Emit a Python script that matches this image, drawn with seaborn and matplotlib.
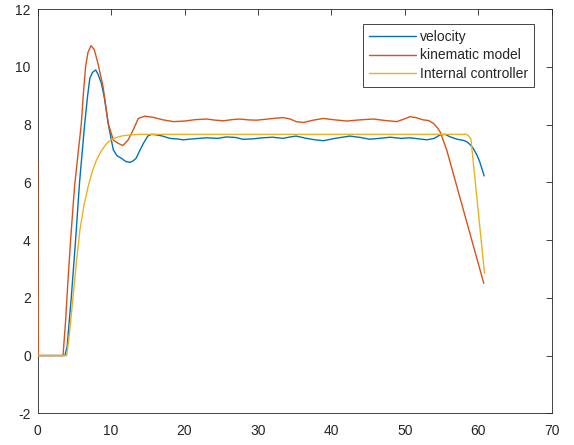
import numpy as np
import pandas as pd
import seaborn as sns
import matplotlib
matplotlib.use("Agg")
import matplotlib.pyplot as plt

# -------------------------------
# Data
# -------------------------------
vel_t = [0, 3.7, 4.0, 4.3, 4.57, 5.16, 5.7, 6.39, 6.8, 7.1, 7.45, 7.9, 8.2, 8.67,
         9.1, 9.6, 10.0, 10.3, 10.8, 11.4, 12.0, 12.6, 13.0, 13.4, 13.9, 14.4,
         15.0, 15.5, 16.2, 17.0, 18.0, 19.0, 19.8, 21.0, 22.0, 23.0, 24.5, 25.7,
         27.0, 27.9, 29.2, 30.6, 32.0, 33.4, 34.4, 35.2, 36.6, 37.8, 38.9, 40.5,
         42.5, 44.0, 45.2, 46.5, 48.0, 49.5, 50.7, 52.0, 53.0, 54.0, 54.8, 55.5,
         56.1, 57.0, 57.5, 58.0, 58.4, 58.9, 59.3, 59.8, 60.2, 60.8]
vel_v = [0, 0, 0.3, 1.2, 2.0, 4.0, 6.0, 8.0, 9.0, 9.6, 9.8, 9.89, 9.75, 9.43,
         8.9, 8.04, 7.5, 7.12, 6.92, 6.83, 6.72, 6.69, 6.74, 6.83, 7.1, 7.35,
         7.6, 7.66, 7.64, 7.6, 7.52, 7.5, 7.47, 7.5, 7.52, 7.54, 7.52, 7.57,
         7.55, 7.49, 7.5, 7.54, 7.56, 7.52, 7.57, 7.6, 7.52, 7.47, 7.44, 7.52,
         7.6, 7.55, 7.49, 7.52, 7.56, 7.52, 7.54, 7.5, 7.47, 7.52, 7.64, 7.66,
         7.58, 7.5, 7.47, 7.45, 7.41, 7.3, 7.18, 6.95, 6.71, 6.22]

kin_t = [0, 0.08, 3.45, 3.8, 4.1, 4.48, 5.0, 5.5, 5.93, 6.2, 6.52, 6.85, 7.26,
         7.7, 8.2, 8.9, 9.6, 10.3, 10.95, 11.6, 12.3, 13.0, 13.7, 14.6, 15.7,
         17.1, 18.5, 20.0, 21.5, 23.0, 24.2, 25.3, 26.5, 27.5, 28.7, 29.8, 31.0,
         32.1, 33.4, 34.4, 35.2, 36.2, 37.5, 38.9, 40.5, 42.1, 43.8, 45.7, 47.3,
         48.9, 50.0, 50.7, 51.5, 52.5, 53.2, 53.9, 54.4, 54.8, 55.7, 60.75]
kin_v = [6.7, 0, 0, 1.2, 2.5, 4.0, 5.8, 7.0, 8.0, 9.0, 10.0, 10.5, 10.73,
         10.6, 10.12, 9.31, 8.04, 7.46, 7.35, 7.27, 7.46, 7.81, 8.21, 8.29, 8.25,
         8.16, 8.1, 8.12, 8.17, 8.19, 8.15, 8.13, 8.17, 8.19, 8.16, 8.15, 8.18,
         8.21, 8.24, 8.19, 8.1, 8.07, 8.15, 8.21, 8.16, 8.12, 8.16, 8.19, 8.14,
         8.1, 8.2, 8.27, 8.24, 8.16, 8.14, 8.04, 7.9, 7.75, 7.12, 2.5]

ctl_t = [0, 3.95, 4.3, 4.8, 5.3, 5.75, 6.3, 6.87, 7.4, 8.0, 8.7, 9.4, 10.0,
         10.7, 11.6, 12.6, 14.0, 58.4, 58.7, 59.0, 60.85]
ctl_v = [0, 0, 0.7, 2.0, 3.3, 4.35, 5.2, 5.85, 6.35, 6.77, 7.1, 7.35, 7.47,
         7.55, 7.61, 7.64, 7.66, 7.66, 7.6, 7.5, 2.85]

labels = ["velocity", "kinematic model", "Internal controller"]
colors = ["#0072BD", "#D95319", "#EDB120"]

sns.set_style("white")
plt.rcParams["font.family"] = ["Liberation Sans", "DejaVu Sans"]
plt.rcParams["axes.unicode_minus"] = False

fig = plt.figure(figsize=(5.74, 4.45), dpi=100)
ax = fig.add_axes([37.7 / 574, 1 - 413.3 / 445, 514 / 574, 404.3 / 445])

for t, v, lab, c in zip([vel_t, kin_t, ctl_t], [vel_v, kin_v, ctl_v], labels, colors):
    df = pd.DataFrame({"t": t, "v": v})
    sns.lineplot(data=df, x="t", y="v", ax=ax, color=c, label=lab,
                 linewidth=1.0, estimator=None, sort=False, zorder=3)

ax.set_xlim(0, 70)
ax.set_ylim(-2, 12)
ax.set_xticks(range(0, 71, 10))
ax.set_yticks(range(-2, 13, 2))
ax.set_xlabel("")
ax.set_ylabel("")
ax.tick_params(direction="in", length=4, width=0.6, colors="#262626",
               labelsize=10, top=True, right=True)
ax.tick_params(axis="x", pad=7.5)
ax.tick_params(axis="y", pad=5)
for s in ax.spines.values():
    s.set_visible(True)
    s.set_color("#262626")
    s.set_linewidth(0.6)
    s.set_zorder(1)

leg = ax.legend(loc="upper right", bbox_to_anchor=(534 / 574, 1 - 24 / 445),
                bbox_transform=fig.transFigure, borderaxespad=0, fontsize=10,
                frameon=True, fancybox=False, framealpha=1, edgecolor="#262626",
                handlelength=3.4, handletextpad=0.3, labelspacing=0.35,
                borderpad=0.4)
leg.get_frame().set_linewidth(0.6)

fig.savefig("out.png", dpi=100)
